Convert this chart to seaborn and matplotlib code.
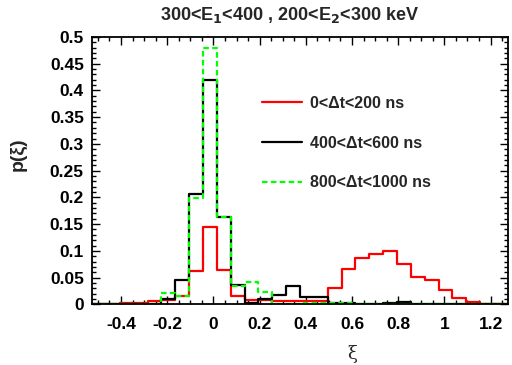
import numpy as np
import pandas as pd
import matplotlib
matplotlib.use("Agg")
import matplotlib.pyplot as plt
from matplotlib.ticker import MultipleLocator
import seaborn as sns

# === Données (30 bins de 0.06, de -0.525 à 1.275) ===
xi_min, bin_w, n_bins = -0.525, 0.06, 30
edges = xi_min + bin_w * np.arange(n_bins + 1)
centres = (edges[:-1] + edges[1:]) / 2

p_0_200 = [0.001, 0.001, 0.002, 0.002, 0.006, 0.008, 0.015, 0.062, 0.144, 0.065,
           0.015, 0.009, 0.009, 0.007, 0.007, 0.007, 0.007, 0.030, 0.066, 0.086,
           0.095, 0.100, 0.076, 0.052, 0.045, 0.027, 0.012, 0.004, 0.001, 0.0]
p_400_600 = [0.001, 0.001, 0.001, 0.001, 0.001, 0.010, 0.046, 0.206, 0.419, 0.164,
             0.037, 0.003, 0.010, 0.017, 0.034, 0.013, 0.013, 0.003, 0.002, 0.0,
             0.0, 0.002, 0.004, 0.001, 0.0, 0.0, 0.0, 0.0, 0.0, 0.0]
p_800_1000 = [0.0, 0.0, 0.0, 0.0, 0.0, 0.021, 0.015, 0.199, 0.480, 0.163,
              0.034, 0.041, 0.024, 0.0, 0.001, 0.002, 0.002, 0.003, 0.002, 0.0,
              0.0, 0.0, 0.0, 0.0, 0.0, 0.0, 0.0, 0.0, 0.0, 0.0]

labels = ["0<Δt<200 ns", "400<Δt<600 ns", "800<Δt<1000 ns"]
couleurs = ["#ff0000", "#000000", "#00ff00"]
styles = ["-", "-", (0, (2.5, 1.5))]
series = [p_0_200, p_400_600, p_800_1000]

xtick_pos = [-0.4, -0.2, 0, 0.2, 0.4, 0.6, 0.8, 1, 1.2]
xtick_lab = ["-0.4", "-0.2", "0", "0.2", "0.4", "0.6", "0.8", "1", "1.2"]
ytick_lab = ["0", "0.05", "0.1", "0.15", "0.2", "0.25", "0.3", "0.35",
             "0.4", "0.45", "0.5"]

# === Style ===
sns.set_theme(style="ticks")
plt.rcParams["font.family"] = ["Liberation Sans", "DejaVu Sans"]
plt.rcParams["font.weight"] = "bold"

fig = plt.figure(figsize=(5.12, 3.65), dpi=100)
ax = fig.add_axes([0.18, 0.166, 0.812, 0.733])

for vals, lab, col, ls in zip(series, labels, couleurs, styles):
    df = pd.DataFrame({"xi": centres, "p": vals})
    sns.histplot(data=df, x="xi", weights="p", bins=edges.tolist(), element="step",
                 fill=False, color=col, linestyle=ls, linewidth=1.6,
                 label=lab, ax=ax)

ax.set_xlim(edges[0], edges[-1])
ax.set_ylim(0, 0.5)
ax.xaxis.set_minor_locator(MultipleLocator(0.05))
ax.yaxis.set_minor_locator(MultipleLocator(0.01))
ax.set_xticks(xtick_pos)
ax.set_xticklabels(xtick_lab)
ax.set_yticks(np.arange(0, 0.501, 0.05))
ax.set_yticklabels(ytick_lab)
ax.tick_params(which="both", direction="in", top=True, right=True,
               colors="black", labelsize=12.5, width=1)
ax.tick_params(which="major", length=6)
ax.tick_params(which="minor", length=3)
ax.tick_params(axis="x", pad=9)
ax.tick_params(axis="y", pad=6)
for lbl in ax.get_xticklabels() + ax.get_yticklabels():
    lbl.set_fontweight("bold")
for sp in ax.spines.values():
    sp.set_linewidth(1.3)
    sp.set_color("black")

ax.set_title("300<E$_\\mathbf{1}$<400 , 200<E$_\\mathbf{2}$<300 keV",
             fontsize=13, fontweight="bold", pad=12, x=0.475)
ax.set_ylabel("p(ξ)", fontsize=14, fontweight="bold")
ax.yaxis.set_label_coords(-0.157, 0.56)
ax.set_xlabel("ξ", fontsize=13, fontweight="normal", family="DejaVu Serif")
ax.xaxis.set_label_coords(0.625, -0.15)

leg = ax.legend(loc="center left", bbox_to_anchor=(0.408, 0.603), frameon=False,
                handlelength=2.5, handletextpad=0.5, labelspacing=1.55,
                borderpad=0, borderaxespad=0, prop={"size": 11.5, "weight": "bold"})

plt.savefig("out.png", dpi=100, facecolor="white")
plt.close()
